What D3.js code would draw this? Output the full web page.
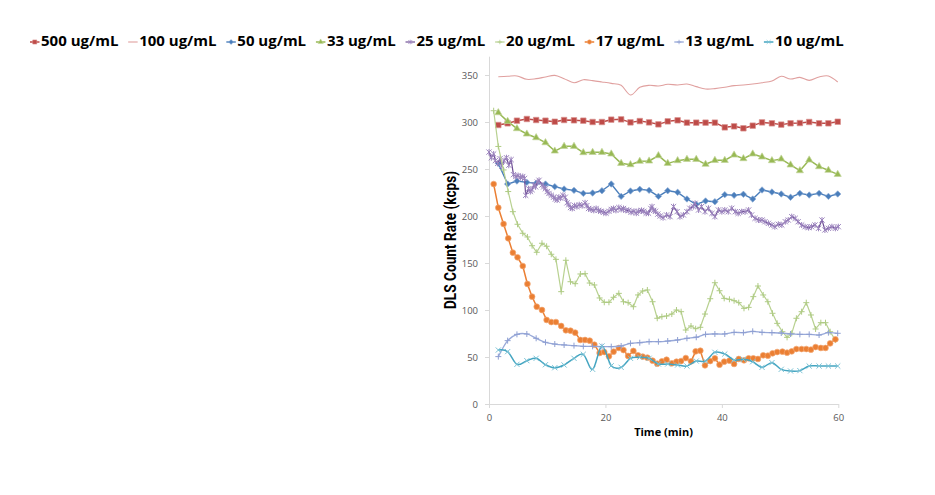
<!DOCTYPE html>
<html>
<head>
<meta charset="utf-8">
<script src="https://cdn.jsdelivr.net/npm/d3@7"></script>
<style>
  body { margin: 0; background: #fff; }
  svg { display: block; }
</style>
</head>
<body>
<div id="chart"></div>
<script>
// Legend names, in drawing order
const seriesNames = ["500 ug/mL", "100 ug/mL", "50 ug/mL", "33 ug/mL", "25 ug/mL",
                     "20 ug/mL", "17 ug/mL", "13 ug/mL", "10 ug/mL"];

// Sample times (min)
const timesA = [1.6,3.2,4.8,6.5,8.1,9.7,11.3,12.9,14.6,16.2,17.8,19.4,21.0,22.7,24.3,25.9,27.5,29.1,
  30.7,32.4,34.0,35.6,37.2,38.8,40.5,42.1,43.7,45.3,46.9,48.6,50.2,51.8,53.4,55.0,56.7,58.3,59.9];
const timesB = [0.8,1.6,2.5,3.3,4.1,4.9,5.8,6.6,7.4,8.2,9.1,9.9,10.7,11.5,12.4,13.2,14.0,14.8,15.7,16.5,
  17.3,18.1,19.0,19.8,20.6,21.4,22.3,23.1,23.9,24.8,25.6,26.4,27.2,28.1,28.9,29.7,30.5,31.4,32.2,33.0,
  33.8,34.7,35.5,36.3,37.1,38.0,38.8,39.6,40.4,41.3,42.1,42.9,43.8,44.6,45.4,46.2,47.1,47.9,48.7,49.5,
  50.4,51.2,52.0,52.8,53.7,54.5,55.3,56.1,57.0,57.8,58.6,59.5];
const times25 = [0.0,0.4,0.8,1.1,1.5,1.9,2.2,2.6,3.0,3.4,3.8,4.2,4.6,5.0,5.4,5.8,6.1,6.3,6.8,7.1,
  7.4,7.7,8.0,8.3,8.6,9.1,9.4,9.7,10.0,10.3,10.7,11.1,11.4,11.7,12.0,12.3,12.7,13.1,13.4,13.7,
  14.0,14.3,14.7,15.1,15.5,16.0,16.5,16.8,17.1,17.5,18.0,18.4,18.8,19.2,19.7,20.1,20.6,21.0,21.4,21.8,
  22.3,22.7,23.1,23.5,24.0,24.4,24.9,25.3,25.7,26.2,26.6,27.0,27.4,27.8,28.0,28.3,28.6,29.0,29.4,
  29.9,30.5,31.1,31.7,32.3,32.8,33.4,34.0,34.5,35.1,35.4,36.0,36.5,37.1,37.7,38.3,38.8,39.4,40.0,40.5,
  41.1,41.7,42.3,42.8,43.4,44.0,44.6,45.1,45.7,46.3,46.9,47.4,48.0,48.6,49.1,49.7,50.3,50.9,51.4,52.0,
  52.6,53.1,53.7,54.3,54.9,55.4,56.0,56.6,57.2,57.7,58.3,58.9,59.5,60.0];

// Count rates (kcps)
const v500 = [296.8,298.6,301.4,303.2,302.1,301.4,300.3,302.1,301.8,301.4,300,300,302.5,302.8,299.6,301,299.6,297.5,
  300.7,301.8,299.3,299.3,299.3,299.3,294.3,295.4,293.3,296.1,299.6,298.6,297.2,298.6,298.9,300,298.6,298.6,300.3];
const v100 = [348.2,348.6,349,345.4,346.1,347.9,349.6,346.1,341.8,345,344,342.6,341.1,339,328.7,336.9,339,338.3,
  340.1,339.4,340.4,337.6,335.1,335.5,336.9,338.7,339.4,340.4,341.8,343.6,348.6,345.7,347.5,344.3,347.9,349,342.6];
const v50 = [256,234,237.2,235.8,234.8,234,231.2,228.7,227.3,224.1,224.5,226.9,234,220.9,226.6,228.4,227.3,220.9,
  226.9,225.2,218.1,212.4,216,215.2,222.7,222,223.1,218.1,227.7,225.5,223.4,219.9,224.1,222.3,224.1,220.9,223.4];
const v33 = [309.9,300.7,292.9,287.2,283.3,278,269.1,274.1,274.1,267.4,267.7,267.7,266,256,254.6,258.2,258.5,264.2,
  256,258.9,260.3,260.3,255,259.2,259.2,264.9,261,266,262.8,258.9,260.6,254.3,248.2,259.6,252.5,248.6,244.3];
const v25 = [268,262,266,259,256,261,253,259,262,254,260,244,242,243,241,242,240,222,229,226,
  228,233,231,236,238,233,231,229,226,224,222,220,218,217,220,219,222,220,214,212,
  209,208,211,210,212,211,214,211,208,207,206,208,206,205,204,203,205,207,208,206,
  209,207,208,206,206,204,205,203,205,206,205,203,203,208,210,206,205,202,200,
  198.2,201.1,199.3,210,204.6,199.3,201.1,204.6,208.2,210,213.5,206.4,210,204.6,208.2,202.8,199.3,206.4,204.6,206.4,
  204.6,208.2,204.6,202.8,204.6,204.6,206.4,201.1,197.5,195.7,195.7,193.9,192.2,190.4,188.6,191.2,190.4,193.9,195.7,199.3,
  197.5,193.9,190.4,188.6,187.6,188.6,190.4,186.9,195.7,185.1,186.9,188.6,186.9,188.6];
const v20 = [312,274,249,226,204.6,191.2,181.6,177.7,168.4,161.4,171,167.8,159.3,153.9,119.5,152.9,130.1,128,138.3,138.6,
  128.7,126.6,112.8,108.2,108.2,113.5,117.7,108.8,107.8,103.5,116,120.2,121.3,108.8,91.2,92.9,93.6,95.7,100,98.2,
  78.7,83,80.1,81.6,95.7,112,129,120.5,112.4,111.4,109.9,107.8,101.8,102.8,114.2,125.5,116,108.8,96.5,85.8,
  76.9,70.9,75.2,91.2,98.2,107.8,94.7,79.8,86.5,86.5,76.9,68];
const v17 = [234,208.8,191.5,176.3,161,156.1,146.8,127.7,114.2,103.5,100,89.4,87.2,87.2,83,78.4,78,75.9,68.1,68.1,
  67.4,63.1,54.3,55.3,50.7,55.7,59.6,57.4,51.1,56.4,51.8,50.4,49.3,46.1,42.9,45.4,47.1,43.3,45,45.7,
  48.9,45.4,56,56.7,41.1,45.7,48.6,41.8,45,46.1,42.6,47.9,46.5,48.6,48.6,47.9,51.8,51.4,53.9,55.3,
  55.7,54.6,56,58.5,58.5,58.5,57.8,60.6,59.6,59.6,64.5,68.8];
const v13 = [50.4,67.4,74.1,74.5,69.9,65.6,63.8,62.8,62.1,61.3,61.3,61,61,61.7,64.5,65.2,66.3,66.3,
  67,68.1,69.9,71,74.1,74.5,74.5,76.2,75.9,77.3,76.2,75.9,75.5,74.5,74.1,74.1,73.4,75.9,75.2];
const v10 = [57.4,55.7,42.2,46.1,48.6,41.8,38.6,41.5,48.6,52.9,36.9,61.7,40.7,39,48.6,49.7,48.6,42.6,
  42.6,41.5,40.4,45.7,45.7,55,53.2,46.8,47.5,45,39,44,36.9,35.1,35.5,40.4,40.4,40.4,40.4];

// Axis ticks
const yTicks = [0, 50, 100, 150, 200, 250, 300, 350];
const xTicks = [0, 20, 40, 60];

const W = 935, H = 495;
const svg = d3.select("#chart").append("svg")
    .attr("width", W)
    .attr("height", H);

const x = d3.scaleLinear().domain([0, 60]).range([489, 838.3]);
const y = d3.scaleLinear().domain([0, 370]).range([404, 56.2]);

// marker shapes
const markers = {
    square: d3.symbol(d3.symbolSquare, 30)(),
    diamond: "M0,-3.2L3.2,0L0,3.2L-3.2,0Z",
    triangle: d3.symbol(d3.symbolTriangle, 22)(),
    circle: d3.symbol(d3.symbolCircle, 26)(),
    plus: "M-3,0H3M0,-3V3",
    cross: "M-2.6,-2.6L2.6,2.6M-2.6,2.6L2.6,-2.6",
    star: "M-2.6,-2.6L2.6,2.6M-2.6,2.6L2.6,-2.6M0,-3V3"
};
const filled = new Set(["square", "diamond", "triangle", "circle"]);

const smooth = d3.curveCardinal.tension(0);
const series = [
    {t: timesA, v: v500, color: "#BE4B48", halo: "#D9908E", w: 1.5, marker: "square", curve: d3.curveLinear},
    {t: timesA, v: v100, color: "#E0A09F", w: 1.1, marker: null, curve: smooth},
    {t: timesA, v: v50, color: "#4A7EBB", halo: "#8EACD6", w: 1.4, marker: "diamond", curve: d3.curveLinear},
    {t: timesA, v: v33, color: "#98B954", halo: "#C3D69B", w: 1.5, marker: "triangle", curve: d3.curveLinear},
    {t: times25, v: v25, color: "#6F4F96", mcolor: "#9C84BE", w: 1.2, marker: "star", curve: d3.curveLinear},
    {t: timesB, v: v20, color: "#B8D190", mcolor: "#AFCB84", w: 1.2, marker: "plus", curve: d3.curveLinear},
    {t: timesB, v: v17, color: "#EB7F33", halo: "#F2A774", w: 1.5, marker: "circle", curve: d3.curveLinear},
    {t: timesA, v: v13, color: "#98A9D9", mcolor: "#8E9FD2", w: 1.3, marker: "plus", curve: smooth},
    {t: timesA, v: v10, color: "#44A5C1", mcolor: "#7CC3D6", w: 1.5, marker: "cross", curve: smooth}
];
series.forEach((s, i) => {
    s.name = seriesNames[i];
    s.points = s.t.map((t, j) => [t, s.v[j]]).filter(p => p[1] != null);
});

// Axes
const axisColor = "#D9D9D9";
const gy = svg.append("g")
    .attr("transform", `translate(${x(0)},0)`)
    .call(d3.axisLeft(y).tickValues(yTicks).tickSize(4).tickSizeOuter(0).tickPadding(7));
const gx = svg.append("g")
    .attr("transform", `translate(0,${y(0)})`)
    .call(d3.axisBottom(x).tickValues(xTicks).tickSize(4).tickSizeOuter(0).tickPadding(6));
[gy, gx].forEach(g => {
    g.select(".domain").attr("stroke", axisColor);
    g.selectAll(".tick line").attr("stroke", axisColor);
    g.selectAll(".tick text")
        .attr("fill", "#595959")
        .style("font-family", "'Open Sans', sans-serif")
        .style("font-size", "9.5px");
});

// Axis titles
svg.append("text")
    .attr("transform", "translate(456,240) rotate(-90)")
    .attr("text-anchor", "middle")
    .attr("textLength", 138)
    .attr("lengthAdjust", "spacingAndGlyphs")
    .style("font-family", "Roboto, sans-serif")
    .style("font-weight", "bold")
    .style("font-size", "16px")
    .attr("fill", "#000")
    .text("DLS Count Rate (kcps)");

svg.append("text")
    .attr("x", 663.5)
    .attr("y", 436)
    .attr("text-anchor", "middle")
    .style("font-family", "'Open Sans', sans-serif")
    .style("font-weight", "bold")
    .style("font-size", "11px")
    .attr("fill", "#000")
    .text("Time (min)");

// Series
const plot = svg.append("g").classed("series", true);
function drawMarker(g, s, px, py, scale) {
    if (!s.marker) return;
    const m = g.append("path")
        .attr("d", markers[s.marker])
        .attr("transform", `translate(${px},${py}) scale(${scale})`);
    if (filled.has(s.marker)) {
        m.attr("fill", s.color).attr("stroke", s.halo).attr("stroke-width", 0.7);
    } else {
        m.attr("fill", "none").attr("stroke", s.mcolor).attr("stroke-width", 1);
    }
}

series.forEach(s => {
    const g = plot.append("g");
    const line = d3.line()
        .x(d => x(d[0]))
        .y(d => y(d[1]))
        .curve(s.curve);
    g.append("path")
        .datum(s.points)
        .attr("d", line)
        .attr("fill", "none")
        .attr("stroke", s.color)
        .attr("stroke-width", s.w)
        .attr("stroke-linejoin", "round");
    s.points.forEach(p => drawMarker(g, s, x(p[0]), y(p[1]), 1));
});

// Legend
const legend = svg.append("g").classed("legend", true);
let lx = 30;
const ly = 42;
series.forEach(s => {
    const item = legend.append("g");
    item.append("line")
        .attr("x1", lx).attr("x2", lx + 9.5)
        .attr("y1", ly).attr("y2", ly)
        .attr("stroke", s.color)
        .attr("stroke-width", s.w);
    drawMarker(item, s, lx + 4.75, ly, 0.75);
    const txt = item.append("text")
        .attr("x", lx + 11)
        .attr("y", ly + 4)
        .style("font-family", "'Open Sans', sans-serif")
        .style("font-weight", "bold")
        .style("font-size", "15px")
        .attr("fill", "#000")
        .text(s.name);
    lx += 11 + txt.node().getComputedTextLength() + 9.8;
});
</script>
</body>
</html>
